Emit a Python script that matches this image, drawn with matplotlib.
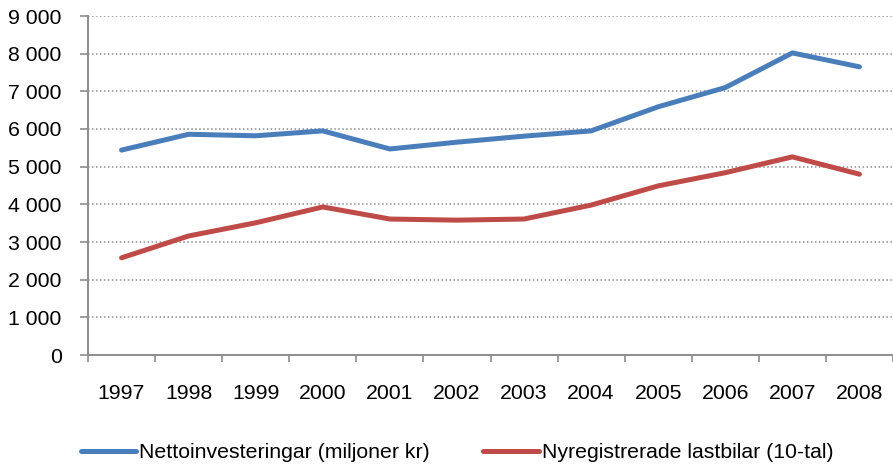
import matplotlib
matplotlib.use("Agg")
import matplotlib.pyplot as plt
from matplotlib.ticker import FuncFormatter, MultipleLocator

plt.rcParams["font.family"] = ["Liberation Sans", "DejaVu Sans"]

years = ["1997", "1998", "1999", "2000", "2001", "2002",
         "2003", "2004", "2005", "2006", "2007", "2008"]
netto = [5440, 5860, 5820, 5950, 5470, 5650, 5810, 5950, 6590, 7100, 8020, 7650]
nyreg = [2580, 3160, 3510, 3930, 3610, 3580, 3610, 3980, 4490, 4840, 5260, 4800]

labels = ["Nettoinvesteringar (miljoner kr)", "Nyregistrerade lastbilar (10-tal)"]
colors = ["#4A7EBB", "#BE4B48"]

fig = plt.figure(figsize=(8.93, 4.65), dpi=100)
ax = fig.add_axes([88 / 893, 1 - 355 / 465, 805 / 893, 339 / 465])

x = list(range(len(years)))
for vals, lab, col in zip([netto, nyreg], labels, colors):
    ax.plot(x, vals, color=col, lw=3.6, label=lab, solid_capstyle="round",
            solid_joinstyle="round")

ax.set_xlim(-0.5, len(years) - 0.5)
ax.set_ylim(0, 9000)
ax.yaxis.set_major_locator(MultipleLocator(1000))
ax.yaxis.set_major_formatter(FuncFormatter(lambda v, p: f"{int(v):,}".replace(",", " ")))

ax.set_xticks(x)
ax.set_xticklabels(years)
ax.set_xticks([i - 0.5 for i in range(len(years) + 1)], minor=True)
ax.tick_params(axis="x", which="major", length=0, pad=21, labelsize=15.3)
ax.tick_params(axis="x", which="minor", length=5, width=1.2, color="#8c8c8c", direction="out")
ax.tick_params(axis="y", length=6, width=1.2, color="#8c8c8c", pad=13, labelsize=15.3)

for v in range(1000, 9001, 1000):
    ax.axhline(v, color="#8c8c8c", lw=1.1, ls=(0, (1.0, 1.6)), zorder=0)

for s in ["top", "right"]:
    ax.spines[s].set_visible(False)
for s in ["left", "bottom"]:
    ax.spines[s].set_color("#8c8c8c")
    ax.spines[s].set_linewidth(1.4)

fig.legend(loc="center", bbox_to_anchor=(0.512, 0.026), ncol=2, frameon=False,
           fontsize=15.3, handlelength=2.6, handletextpad=0.15, columnspacing=2.5)

fig.savefig("out.png", dpi=100)
